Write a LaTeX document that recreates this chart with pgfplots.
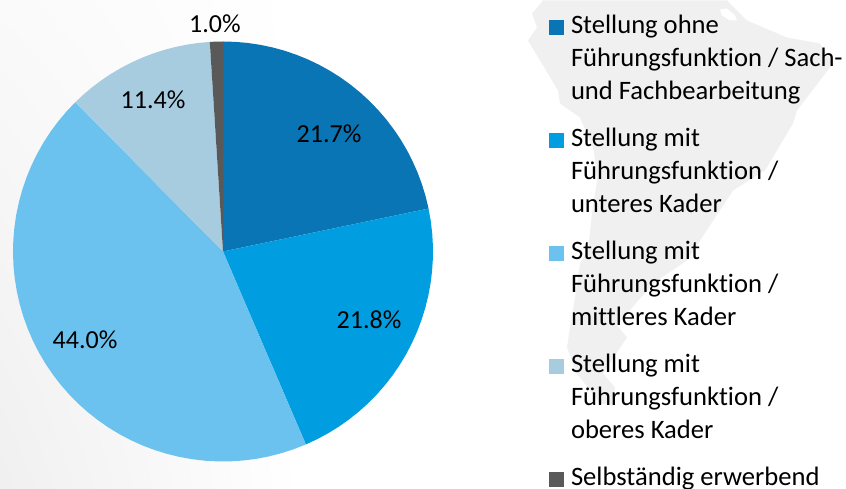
\documentclass[border=0pt]{standalone}
\usepackage{fontspec}
\setmainfont{Carlito}[Ligatures=NoCommon]
\usepackage{pgfplots}
\usepackage{pgfplotstable}
\usetikzlibrary{shadings}
\pgfplotsset{compat=1.18}

\definecolor{c1}{HTML}{0A75B4}
\definecolor{c2}{HTML}{009EE0}
\definecolor{c3}{HTML}{6CC2EE}
\definecolor{c4}{HTML}{A7CCE0}
\definecolor{c5}{HTML}{595959}
\definecolor{mapgrey}{HTML}{F0F0F0}

% outline of the background map, in pixels of the reference
\pgfplotstableread{
543 0
532 13
537 27
528 40
540 60
558 90
560 103
580 117
594 150
597 180
592 213
588 250
580 263
575 297
570 327
567 347
577 373
600 403
613 405
615 387
603 373
627 337
617 325
640 298
657 280
687 260
700 240
733 190
765 170
793 123
797 110
833 63
820 43
787 37
747 20
727 0
}\maptable

\pgfplotstableread{
720 9
727 8
735 15
737 20
730 20
722 15
}\islandtable

% slice from percent #1 to percent #2 (the shares add up to 99.9)
\newcommand{\slice}[3]{%
  \gdef\pts{(0,0)}%
  \pgfmathtruncatemacro\nn{ceil(#2-#1)+1}%
  \foreach \k in {0,...,\nn}{%
    \pgfmathsetmacro\ang{90-360/99.9*(#1+(#2-#1)*\k/\nn)}%
    \xdef\pts{\pts (\ang,210)}%
  }%
  \edef\temp{\noexpand\addplot[fill=#3,draw=none,data cs=polar] coordinates {\pts};}%
  \temp
}

\begin{document}
\begin{tikzpicture}
\useasboundingbox (0,0) rectangle (846pt,489pt);
\shade[lower left=black!6,upper left=black!2,upper right=white,lower right=white] (0,0) rectangle (300pt,489pt);
\begin{axis}[
    at={(0,0)},
    anchor=south west,
    width=846pt,
    height=489pt,
    scale only axis,
    xmin=-223, xmax=623,
    ymin=-237.5, ymax=251.5,
    hide axis,
    clip=false,
    legend cell align=left,
    legend image code/.code={
      \fill[#1] (0pt,23.5pt) rectangle (15pt,38.5pt);
      \path (22pt,0pt);
    },
    legend style={
      at={(axis cs:326,236)},
      anchor=north west,
      draw=none,
      fill=none,
      inner sep=0pt,
      outer sep=0pt,
      font=\fontsize{26.6}{33}\selectfont,
      row sep=27pt,
      nodes={align=left,inner sep=0pt},
    },
]
\addplot[forget plot,fill=mapgrey,draw=none] table[x expr=\thisrowno{0}-223,y expr=251-\thisrowno{1}] {\maptable};
\addplot[forget plot,fill=white,draw=none] table[x expr=\thisrowno{0}-223,y expr=251-\thisrowno{1}] {\islandtable};

\slice{0}{21.7}{c1}
\addlegendentry{Stellung ohne\\Führungsfunktion / Sach-\\und Fachbearbeitung}
\slice{21.7}{43.5}{c2}
\addlegendentry{Stellung mit\\Führungsfunktion /\\unteres Kader}
\slice{43.5}{87.5}{c3}
\addlegendentry{Stellung mit\\Führungsfunktion /\\mittleres Kader}
\slice{87.5}{98.9}{c4}
\addlegendentry{Stellung mit\\Führungsfunktion /\\oberes Kader}
\slice{98.9}{99.9}{c5}
\addlegendentry{Selbständig erwerbend\\~\\~}

\begin{scope}[every node/.style={font=\fontsize{26}{30}\selectfont,text=black}]
\node at (axis cs:106,118) {21.7\%};
\node at (axis cs:146,-68) {21.8\%};
\node at (axis cs:-138,-88) {44.0\%};
\node at (axis cs:-70,152) {11.4\%};
\node at (axis cs:-8,228) {1.0\%};
\end{scope}
\end{axis}
\end{tikzpicture}
\end{document}
